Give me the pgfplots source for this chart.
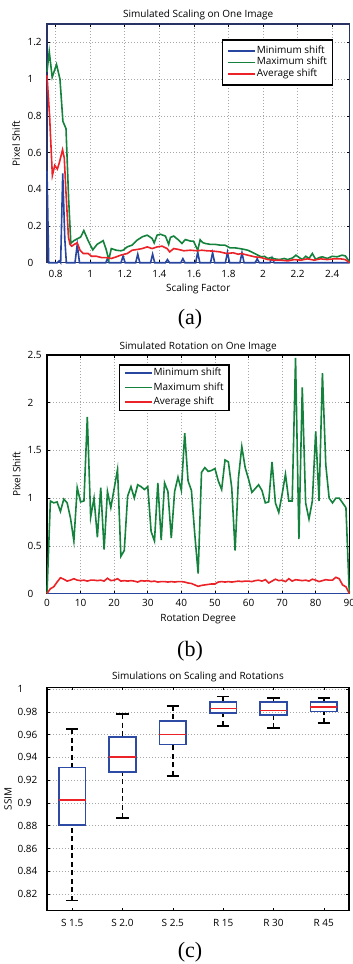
\documentclass[border=0pt]{standalone}
\usepackage{fontspec}
\setmainfont{Open Sans}
\newfontfamily\capfont{Liberation Serif}
\usepackage{pgfplots}
\pgfplotsset{compat=1.18}
\usepgfplotslibrary{statistics}
\definecolor{frameA}{RGB}{40,50,100}
\definecolor{cblue}{RGB}{40,70,160}
\definecolor{cgreen}{RGB}{20,130,60}
\definecolor{cred}{RGB}{235,35,40}
\definecolor{bblue}{RGB}{45,75,165}
\newcommand\fs{\fontsize{10pt}{12pt}\selectfont}
\pgfplotsset{
  base/.style={
    scale only axis, enlargelimits=false,
    font=\fs, tick label style={font=\fs}, label style={font=\fs},
    title style={font=\fs, anchor=base, yshift=0.5pt},
    /pgf/number format/assume math mode=true,
    tick align=inside, major tick length=3pt,
    every tick/.style={black, line width=0.6pt},
    grid style={gray!70, line width=0.6pt, dash pattern=on 0.7pt off 2.3pt},
    axis line style={line width=1.1pt},
    yticklabel style={anchor=west, xshift=-23pt},
    xlabel style={at={(axis description cs:0.5,0)}, anchor=base, yshift=-29pt},
    legend cell align=left,
    legend image code/.code={\draw[##1] (0pt,0pt) -- (27pt,0pt);},
  },
}
\begin{document}
\begin{tikzpicture}
\path[use as bounding box] (0pt,0pt) rectangle (353pt,-964pt);
% ---------------- (a)
\begin{axis}[base, at={(47pt,-24pt)}, anchor=north west, width=302.5pt, height=238.7pt,
  xmin=0.75, xmax=2.5, ymin=0, ymax=1.3,
  xtick={0.8,1,1.2,1.4,1.6,1.8,2,2.2,2.4}, ytick={0,0.2,0.4,0.6,0.8,1,1.2},
  grid=major, axis line style={draw=frameA},
  title={Simulated Scaling on One Image}, xlabel={Scaling Factor}, ylabel={Pixel Shift},
  ylabel style={at={(axis description cs:-0.1025,0.5)}, anchor=center},
  xticklabel style={anchor=base, yshift=-14.3pt},
  legend style={at={(0.5775,0.937)}, anchor=north west, draw=black, line width=1.5pt,
    inner xsep=5pt, inner ysep=5.5pt, font=\fs,
    nodes={inner sep=0.8pt, text height=7.5pt, text depth=2.3pt}, row sep=0pt},
  clip=false]
\addplot[cblue, line width=1.6pt] coordinates {
(0.75,0.5) (0.76,0) (0.81,0) (0.82,0.01) (0.829,0) (0.841,0.487) (0.853,0.13) (0.862,0)
(0.912,0) (0.925,0.1) (0.938,0) (1.09,0) (1.10,0.023) (1.11,0) (1.178,0) (1.19,0.035) (1.202,0)
(1.263,0) (1.275,0.046) (1.287,0) (1.349,0) (1.361,0.046) (1.373,0) (1.435,0) (1.447,0.017) (1.459,0)
(1.524,0) (1.536,0.022) (1.548,0) (1.61,0) (1.622,0.057) (1.634,0) (1.696,0) (1.708,0.054) (1.72,0)
(1.782,0) (1.794,0.057) (1.806,0) (1.866,0) (1.878,0.054) (1.89,0) (1.954,0) (1.966,0.021) (1.978,0)
(2.04,0) (2.052,0.028) (2.064,0) (2.5,0)};
\addlegendentry{Minimum shift}
\addplot[cgreen, line width=1.6pt] coordinates {
(0.75,1.04) (0.763,1.15) (0.78,1.01) (0.805,1.08) (0.825,1.0) (0.842,0.77) (0.86,0.73) (0.875,0.35)
(0.888,0.105) (0.905,0.12) (0.925,0.13) (0.945,0.14) (0.963,0.175) (0.988,0.12) (1.015,0.07) (1.04,0.10)
(1.075,0.12) (1.093,0.07) (1.107,0.015) (1.122,0.077) (1.15,0.068) (1.176,0.065) (1.19,0.068) (1.214,0.086)
(1.243,0.096) (1.272,0.123) (1.301,0.141) (1.33,0.15) (1.358,0.132) (1.37,0.108) (1.387,0.15) (1.406,0.155)
(1.435,0.145) (1.454,0.10) (1.464,0.138) (1.483,0.145) (1.512,0.123) (1.531,0.105) (1.55,0.126) (1.579,0.118)
(1.598,0.117) (1.613,0.086) (1.622,0.068) (1.636,0.125) (1.65,0.11) (1.665,0.105) (1.693,0.1) (1.722,0.1)
(1.75,0.096) (1.779,0.096) (1.808,0.081) (1.836,0.081) (1.865,0.077) (1.893,0.072) (1.912,0.068) (1.932,0.059)
(1.951,0.05) (1.97,0.041) (1.989,0.032) (2.008,0.035) (2.027,0.023) (2.046,0.028) (2.066,0.021) (2.094,0.017)
(2.123,0.023) (2.142,0.017) (2.171,0.026) (2.19,0.041) (2.209,0.028) (2.228,0.017) (2.247,0.035) (2.266,0.023)
(2.285,0.05) (2.305,0.017) (2.324,0.028) (2.343,0.032) (2.371,0.023) (2.4,0.035) (2.429,0.032) (2.457,0.041)
(2.476,0.037) (2.5,0.005)};
\addlegendentry{Maximum shift}
\addplot[cred, line width=1.6pt] coordinates {
(0.75,1.02) (0.765,0.8) (0.781,0.475) (0.795,0.53) (0.81,0.51) (0.82,0.54) (0.84,0.615) (0.85,0.57)
(0.86,0.38) (0.874,0.14) (0.883,0.1) (0.893,0.09) (0.908,0.1) (0.925,0.108) (0.941,0.068) (0.96,0.05)
(0.988,0.05) (1.008,0.035) (1.036,0.035) (1.065,0.028) (1.093,0.028) (1.122,0.023) (1.151,0.032) (1.176,0.041)
(1.214,0.05) (1.243,0.068) (1.272,0.072) (1.301,0.077) (1.33,0.086) (1.358,0.077) (1.387,0.086) (1.416,0.09)
(1.445,0.077) (1.46,0.059) (1.483,0.077) (1.512,0.072) (1.541,0.065) (1.579,0.068) (1.617,0.065) (1.646,0.068)
(1.675,0.065) (1.713,0.063) (1.75,0.059) (1.789,0.05) (1.827,0.054) (1.856,0.046) (1.874,0.05) (1.912,0.041)
(1.951,0.032) (1.989,0.028) (2.027,0.017) (2.066,0.014) (2.104,0.014) (2.142,0.01) (2.18,0.017) (2.218,0.014)
(2.257,0.021) (2.295,0.014) (2.333,0.021) (2.371,0.017) (2.41,0.021) (2.448,0.021) (2.476,0.017) (2.5,0)};
\addlegendentry{Average shift}
\end{axis}
% ---------------- (b)
\begin{axis}[base, at={(47pt,-355pt)}, anchor=north west, width=302.3pt, height=238.5pt,
  xmin=0, xmax=90, ymin=0, ymax=2.5,
  xtick={0,10,20,30,40,50,60,70,80,90}, ytick={0,0.5,1,1.5,2,2.5},
  grid=major, axis line style={draw=black},
  title={Simulated Rotation on One Image}, title style={yshift=-0.5pt},
  xlabel={Rotation Degree}, ylabel={Pixel Shift},
  xlabel style={yshift=1.5pt},
  ylabel style={at={(axis description cs:-0.1009,0.5)}, anchor=center},
  xticklabel style={anchor=base, yshift=-13pt},
  legend style={at={(0.238,0.962)}, anchor=north west, draw=black, line width=1.5pt,
    inner xsep=4.5pt, inner ysep=2.5pt, font=\fs,
    nodes={inner sep=0.8pt, text height=7.5pt, text depth=2.3pt}, row sep=3.2pt},
  clip=false]
\addplot[cblue, line width=1.6pt] coordinates {(0,0) (90,0)};
\addlegendentry{Minimum shift}
\addplot[cgreen, line width=1.6pt] table {
0 0
1 0.97
2 0.95
3 0.96
4 0.86
5 0.99
6 0.95
7 0.79
8 0.55
9 1.11
10 0.96
11 0.97
12 1.85
13 0.80
14 1.00
15 0.59
16 1.11
17 0.46
18 1.07
19 0.90
20 1.10
21 1.30
22 0.39
23 0.45
24 1.02
25 1.12
26 1.00
27 1.14
28 1.12
29 1.09
30 1.12
31 0.65
32 0.55
33 1.16
34 0.56
35 1.16
36 1.07
37 0.58
38 1.07
39 1.22
40 1.08
41 1.68
42 1.18
43 1.08
44 0.62
45 0.21
46 1.27
47 1.32
48 1.28
49 1.29
50 1.31
51 1.18
52 1.09
53 1.40
54 1.38
55 1.11
56 0.45
57 1.21
58 1.54
59 1.32
60 1.20
61 1.06
62 1.10
63 1.14
64 1.08
65 0.95
66 0.96
67 1.38
68 0.95
69 0.85
70 1.04
71 1.25
72 0.97
73 0.97
74 2.47
75 0.57
76 2.16
77 0.95
78 0.78
79 0.97
80 1.70
81 0.97
82 2.31
83 1.35
84 1.00
85 0.95
86 1.00
87 1.00
88 0.95
89 0.90
90 0
};
\addlegendentry{Maximum shift}
\addplot[cred, line width=1.6pt] table {
0 0
1 0.05
2 0.07
3 0.12
4 0.165
5 0.15
6 0.13
7 0.14
8 0.155
9 0.14
10 0.135
11 0.14
12 0.13
13 0.14
14 0.14
15 0.135
16 0.14
17 0.13
18 0.16
19 0.135
20 0.14
21 0.155
22 0.13
23 0.135
24 0.13
25 0.135
26 0.13
27 0.12
28 0.135
29 0.13
30 0.135
31 0.125
32 0.13
33 0.12
34 0.125
35 0.125
36 0.12
37 0.125
38 0.12
39 0.125
40 0.125
41 0.12
42 0.11
43 0.105
44 0.09
45 0.075
46 0.085
47 0.09
48 0.095
49 0.1
50 0.1
51 0.12
52 0.125
53 0.12
54 0.125
55 0.12
56 0.125
57 0.13
58 0.125
59 0.13
60 0.13
61 0.125
62 0.135
63 0.14
64 0.13
65 0.145
66 0.11
67 0.13
68 0.15
69 0.135
70 0.14
71 0.125
72 0.155
73 0.13
74 0.145
75 0.14
76 0.135
77 0.14
78 0.13
79 0.15
80 0.14
81 0.125
82 0.135
83 0.145
84 0.14
85 0.14
86 0.17
87 0.155
88 0.09
89 0.07
90 0
};
\addlegendentry{Average shift}
\end{axis}
% ---------------- (c)
\begin{axis}[base, at={(47pt,-687.3pt)}, anchor=north west, width=302pt, height=223.4pt,
  xmin=0.5, xmax=6.5, ymin=0.8055, ymax=1.0015,
  xtick={1,2,3,4,5,6}, xticklabels={S 1.5,S 2.0,S 2.5,R 15,R 30,R 45},
  ytick={0.82,0.84,0.86,0.88,0.9,0.92,0.94,0.96,0.98,1},
  ymajorgrids, axis line style={draw=black},
  title={Simulations on Scaling and Rotations}, title style={yshift=1.2pt}, ylabel={SSIM},
  ylabel style={at={(axis description cs:-0.129,0.5)}, anchor=center},
  yticklabel style={xshift=-10pt},
  xticklabel style={anchor=base, yshift=-15.8pt},
  boxplot/draw direction=y,
  boxplot/box extend=0.53, boxplot/whisker extend=0.25,
  boxplot/every box/.style={draw=bblue, line width=1.7pt},
  boxplot/every median/.style={draw=cred, line width=1.7pt},
  boxplot/draw/lower whisker/.code={%
    \draw[black, line width=1.6pt, dash pattern=on 5pt off 3.5pt]
      (boxplot box cs:\pgfplotsboxplotvalue{lower whisker},0.5) --
      (boxplot box cs:\pgfplotsboxplotvalue{lower quartile},0.5);
    \draw[black, line width=1.6pt]
      (boxplot whisker cs:\pgfplotsboxplotvalue{lower whisker},0) --
      (boxplot whisker cs:\pgfplotsboxplotvalue{lower whisker},1);
  },
  boxplot/draw/upper whisker/.code={%
    \draw[black, line width=1.6pt, dash pattern=on 5pt off 3.5pt]
      (boxplot box cs:\pgfplotsboxplotvalue{upper whisker},0.5) --
      (boxplot box cs:\pgfplotsboxplotvalue{upper quartile},0.5);
    \draw[black, line width=1.6pt]
      (boxplot whisker cs:\pgfplotsboxplotvalue{upper whisker},0) --
      (boxplot whisker cs:\pgfplotsboxplotvalue{upper whisker},1);
  },
  ]
\addplot[draw=bblue, line width=1.7pt, boxplot prepared={draw position=1,
  lower whisker=0.8144, lower quartile=0.8805, median=0.9026, upper quartile=0.9312, upper whisker=0.9647}]
  coordinates {};
\addplot[draw=bblue, line width=1.7pt, boxplot prepared={draw position=2,
  lower whisker=0.8868, lower quartile=0.9271, median=0.9404, upper quartile=0.958, upper whisker=0.978}]
  coordinates {};
\addplot[draw=bblue, line width=1.7pt, boxplot prepared={draw position=3,
  lower whisker=0.9238, lower quartile=0.9512, median=0.960, upper quartile=0.972, upper whisker=0.9853}]
  coordinates {};
\addplot[draw=bblue, line width=1.7pt, boxplot prepared={draw position=4,
  lower whisker=0.9677, lower quartile=0.9791, median=0.9829, upper quartile=0.9888, upper whisker=0.9935}]
  coordinates {};
\addplot[draw=bblue, line width=1.7pt, boxplot prepared={draw position=5,
  lower whisker=0.9656, lower quartile=0.9774, median=0.9811, upper quartile=0.9885, upper whisker=0.9923}]
  coordinates {};
\addplot[draw=bblue, line width=1.7pt, boxplot prepared={draw position=6,
  lower whisker=0.970, lower quartile=0.9803, median=0.9844, upper quartile=0.9885, upper whisker=0.9923}]
  coordinates {};
\end{axis}
% captions
\node[font=\capfont\fontsize{22pt}{24pt}\selectfont, anchor=base] at (190pt,-324.4pt) {(a)};
\node[font=\capfont\fontsize{22pt}{24pt}\selectfont, anchor=base] at (190pt,-656.8pt) {(b)};
\node[font=\capfont\fontsize{22pt}{24pt}\selectfont, anchor=base] at (190pt,-957pt) {(c)};
\end{tikzpicture}
\end{document}
